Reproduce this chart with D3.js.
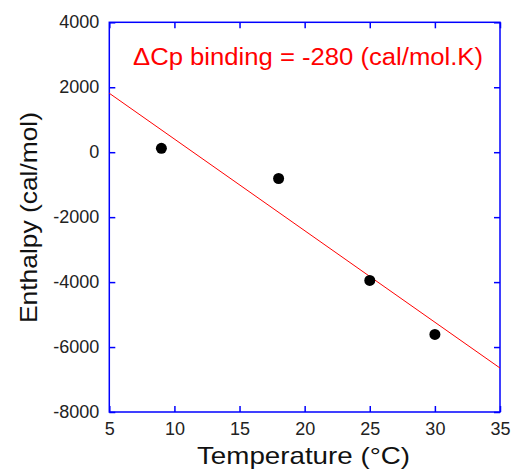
<!DOCTYPE html>
<html><head><meta charset="utf-8">
<script src="https://cdn.jsdelivr.net/npm/d3@7"></script>
<style>body{margin:0;background:#fff}svg{display:block}text{font-family:"Liberation Sans",Arial,sans-serif}</style>
</head><body>
<svg id="c" width="512" height="470"></svg>
<script>
const temps = [9, 18, 25, 30];
const enthalpy = [120, -810, -3950, -5610];
const fitTemps = [5, 35];
const fitEnthalpy = [1815, -6646];
const xTicks = [5, 10, 15, 20, 25, 30, 35];
const yTicks = [4000, 2000, 0, -2000, -4000, -6000, -8000];
const annotation = "\u0394Cp binding = -280 (cal/mol.K)";

const svg = d3.select("#c");
const L = 109.3, R = 500, T = 22.3, B = 412;
const x = d3.scaleLinear().domain([5, 35]).range([L, R]);
const y = d3.scaleLinear().domain([-8000, 4000]).range([B, T]);
const blue = "#0000ff";
const fmt = d => String(d);

const tl = 6;
const axB = svg.append("g").attr("transform", `translate(0,${B})`)
  .call(d3.axisBottom(x).tickValues(xTicks).tickSize(-tl).tickPadding(10).tickFormat(fmt));
const axT = svg.append("g").attr("transform", `translate(0,${T})`)
  .call(d3.axisTop(x).tickValues(xTicks).tickSize(-tl).tickFormat(""));
const axL = svg.append("g").attr("transform", `translate(${L},0)`)
  .call(d3.axisLeft(y).tickValues(yTicks).tickSize(-tl).tickPadding(10).tickFormat(fmt));
const axR = svg.append("g").attr("transform", `translate(${R},0)`)
  .call(d3.axisRight(y).tickValues(yTicks).tickSize(-tl).tickFormat(""));
[axB, axT, axL, axR].forEach(a => {
  a.selectAll("path.domain").remove();
  a.selectAll(".tick line").attr("stroke", blue).attr("stroke-width", 1.5);
  a.selectAll(".tick text").attr("fill", "#222").style("font-size", "18px")
    .style("font-family", '"Liberation Sans",Arial,sans-serif');
});
axL.selectAll(".tick text").attr("dy", "0.28em");
axB.selectAll(".tick text").attr("dy", "0.72em");

svg.append("rect").attr("x", L).attr("y", T).attr("width", R - L).attr("height", B - T)
  .attr("fill", "none").attr("stroke", blue).attr("stroke-width", 1.5);

svg.append("path")
  .datum(fitTemps.map((t, i) => [t, fitEnthalpy[i]]))
  .attr("d", d3.line().x(d => x(d[0])).y(d => y(d[1])))
  .attr("stroke", "#ff0000").attr("stroke-width", 1).attr("fill", "none");

svg.selectAll("circle.pt").data(temps.map((t, i) => [t, enthalpy[i]])).enter()
  .append("circle").attr("class", "pt")
  .attr("cx", d => x(d[0])).attr("cy", d => y(d[1])).attr("r", 5.5).attr("fill", "#000");

svg.append("text").attr("x", 133).attr("y", 65).attr("fill", "#ff0000")
  .attr("textLength", 350).attr("lengthAdjust", "spacingAndGlyphs")
  .style("font-size", "23px").text(annotation);

svg.append("text").attr("x", 197).attr("y", 464)
  .attr("textLength", 213).attr("lengthAdjust", "spacingAndGlyphs")
  .attr("fill", "#111").style("font-size", "24px").text("Temperature (\u00B0C)");
svg.append("text").attr("transform", "translate(37,323) rotate(-90)")
  .attr("textLength", 211).attr("lengthAdjust", "spacingAndGlyphs")
  .attr("fill", "#111").style("font-size", "24px").text("Enthalpy (cal/mol)");
</script>
</body></html>
